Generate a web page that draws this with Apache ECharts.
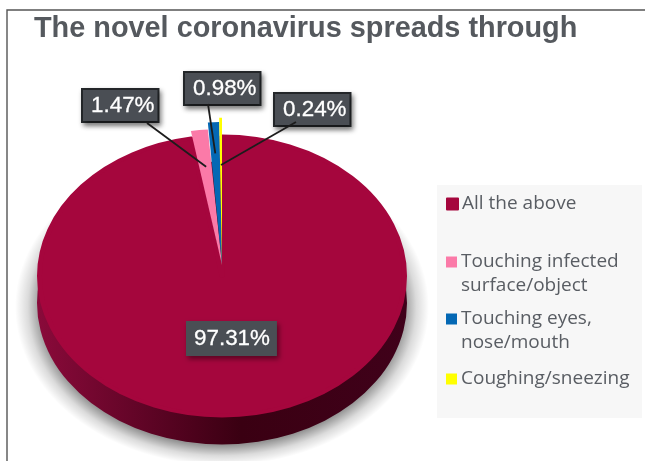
<!DOCTYPE html>
<html><head><meta charset="utf-8">
<style>html,body{margin:0;padding:0;background:#fff}#c{width:645px;height:461px}</style>
<script src="https://cdn.jsdelivr.net/npm/echarts@6/dist/echarts.min.js"></script>
</head><body><div id="c"></div>
<script>
const titleText = 'The novel coronavirus spreads through';
const categories = ['All the above', 'Touching infected\nsurface/object', 'Touching eyes,\nnose/mouth', 'Coughing/sneezing'];
const shares = [97.31, 1.47, 0.98, 0.24];
const colors = ['#a5063d', '#fb7aa8', '#0468b4', '#ffff00'];
const labelBoxes = [[186, 321], [83, 90], [185, 73], [275, 94]];
const legendTops = [192, 226, 283, 367];
const sliceLift = [0, 11, 11, 11];
const sliceStretch = [1, 0.96, 1.01, 1.04];
const leaderFrom = [null, [147, 123], [208, 104], [296, 122]];
const leaderFrac = [0, 0.7, 0.79, 0.707];

const CX = 222, CY = 276, R = 185, SQUASH = 141.5 / 185, DEPTH = 27, SEAM = 5, HALO = 22;
const chart = echarts.init(document.getElementById('c'), null, {renderer: 'canvas'});
const total = shares.reduce((a, b) => a + b, 0);
const START = 90;

// leader line ends follow the slice angles
function sliceTip(i, frac) {
  let acc = 0;
  for (let k = 0; k < i; k++) acc += shares[k];
  const ang = (START - (acc + shares[i] / 2) / total * 360) * Math.PI / 180;
  return [CX + R * frac * Math.cos(ang), CY - sliceLift[i] - R * SQUASH * frac * Math.sin(ang)];
}
const leaders = [1, 2, 3].map(i => {
  const tip = sliceTip(i, leaderFrac[i]);
  return {
    type: 'line', z: 30, silent: true,
    shape: {x1: leaderFrom[i][0], y1: leaderFrom[i][1], x2: tip[0], y2: tip[1]},
    style: {stroke: '#1c1c1c', lineWidth: 1.8}
  };
});

const haloInner = R / (R + HALO);
chart.setOption({
  animation: false,
  backgroundColor: '#fff',
  title: {text: titleText, left: 34, top: 15, padding: 0, textStyle: {fontFamily: 'Liberation Sans', fontSize: 28.85, fontWeight: 'bold', color: '#55595e'}},
  legend: categories.map((name, i) => ({
    data: [name], orient: 'vertical', left: 446, top: legendTops[i], padding: 0,
    itemWidth: 11, itemHeight: 11, itemGap: 0, icon: 'rect', selectedMode: false,
    formatter: n => n.includes('\n') ? '\n' + n : n,
    textStyle: {fontFamily: 'Open Sans', fontSize: 19, color: '#595d63', lineHeight: 24, padding: [0, 0, 0, -1]}
  })),
  graphic: [
    {type: 'rect', z: -1, silent: true, shape: {x: 437, y: 185, width: 205, height: 233}, style: {fill: '#f7f7f7'}},
    {type: 'polyline', z: 40, silent: true, shape: {points: [[7, 461], [7, 10], [645, 10]]}, style: {stroke: '#555', lineWidth: 1.4, fill: null}},
    {type: 'circle', z: 1, silent: true, shape: {cx: CX, cy: CY + DEPTH + 4, r: R + HALO},
      originX: CX, originY: CY + DEPTH + 4, scaleY: SQUASH,
      style: {fill: {type: 'radial', x: 0.5, y: 0.5, r: 0.5, colorStops: [
        {offset: 0, color: 'rgba(0,0,0,0.42)'},
        {offset: haloInner - 0.02, color: 'rgba(0,0,0,0.42)'},
        {offset: haloInner + 0.045, color: 'rgba(0,0,0,0.14)'},
        {offset: 1, color: 'rgba(0,0,0,0)'}]}}}
  ].concat(leaders),
  series: [
    {
      name: 'Spread', type: 'pie', z: 10, center: [CX, CY], radius: [0, R], startAngle: START, clockwise: true,
      minAngle: 0, avoidLabelOverlap: false, silent: true,
      data: categories.map((name, i) => ({
        name, value: shares[i],
        itemStyle: i === 0 ? {color: colors[i], borderColor: colors[i], borderWidth: SEAM} : {color: colors[i]},
        label: i === 0 ? {borderWidth: 0, padding: [7, 7, 6, 8]} : {}
      })),
      label: {show: true, position: 'inside', formatter: p => p.value.toFixed(2) + '%',
        fontFamily: 'Liberation Sans', fontSize: 22.4, color: '#fff', textBorderColor: '#fff', textBorderWidth: 0.3,
        backgroundColor: '#4a4e54', padding: [5, 3, 4, 8], borderColor: '#24272a', borderWidth: 2,
        shadowColor: 'rgba(0,0,0,0.45)', shadowBlur: 5, shadowOffsetX: 2, shadowOffsetY: 3},
      labelLine: {show: false},
      labelLayout: p => ({x: labelBoxes[p.dataIndex][0], y: labelBoxes[p.dataIndex][1], align: 'left', verticalAlign: 'top'})
    },
    {
      name: 'Depth', type: 'pie', z: 5, center: [CX, CY + DEPTH], radius: [0, R], startAngle: START, silent: true,
      data: categories.map((name, i) => ({name, value: shares[i]})),
      label: {show: false}, labelLine: {show: false},
      itemStyle: {
        color: {type: 'linear', x: 0, y: 0, x2: 1, y2: 0, colorStops: [
          {offset: 0, color: '#8a0a3a'}, {offset: 0.3, color: '#5e0425'}, {offset: 0.55, color: '#3a0012'}, {offset: 1, color: '#40011a'}]}
      }
    }
  ]
});

// squash the circular pies into the tilted ellipse of the picture
const zr = chart.getZr();
zr.storage.getDisplayList(true).filter(el => el.type === 'sector').forEach(el => {
  const isTop = Math.abs(el.shape.cy - CY) < 1;
  const sweep = Math.abs(el.shape.endAngle - el.shape.startAngle);
  let i = 0, best = Infinity;
  shares.forEach((s, k) => {
    const d = Math.abs(sweep - s / total * 2 * Math.PI);
    if (d < best) { best = d; i = k; }
  });
  el.originX = CX;
  el.originY = el.shape.cy;
  el.scaleY = SQUASH * (isTop ? sliceStretch[i] : 1);
  if (isTop && i === 0) {
    const shrink = R / (R + SEAM / 2);
    el.scaleX = shrink;
    el.scaleY *= shrink;
  }
  el.y = isTop ? -sliceLift[i] : 0;
  el.markRedraw();
});
zr.refreshImmediately();
</script></body></html>
